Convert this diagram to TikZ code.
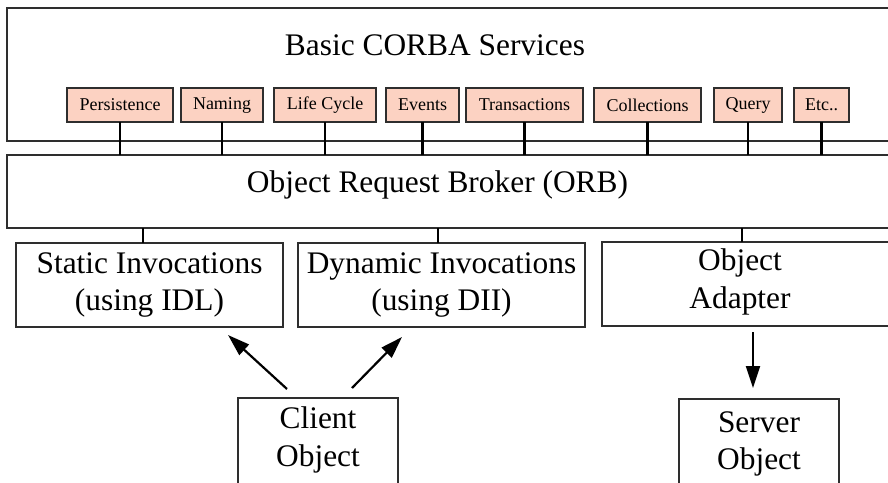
\documentclass[tikz,border=0pt]{standalone}
\usepackage{fontspec}
\setmainfont{Liberation Serif}
\usetikzlibrary{arrows.meta}

\begin{document}
\begin{tikzpicture}[x=1pt, y=-1pt,
    frame/.style={draw=borderColour, line width=1.6pt, outer sep=0pt, inner sep=0pt},
    svcbox/.style={frame, fill=fillColour, minimum height=34pt, font=\fontsize{18}{21.6}\selectfont},
    bigtext/.style={font=\fontsize{31.4}{37.7}\selectfont, align=center, inner sep=0pt},
    link/.style={line width=2.4pt, black},
    arrow/.style={line width=2.2pt, -{Triangle[length=22pt, width=14pt]}}]

    \definecolor{borderColour}{HTML}{2E2E2E}
    \definecolor{fillColour}{HTML}{FCD2C2}

    \useasboundingbox (0,0) rectangle (888,482);
    \clip (0,0) rectangle (888,482);

    % Draw the services frame and the ORB bar
    \node[frame, minimum width=893pt, minimum height=133pt] (services) at (453.5,74.5) {};
    \node[bigtext, anchor=base] (servicesLabel) at (435,55) {Basic CORBA Services};
    \node[frame, minimum width=893pt, minimum height=73pt] (orb) at (453.5,191.5) {};
    \node[bigtext, anchor=base] (orbLabel) at (437.5,192) {Object Request Broker (ORB)};

    % Draw the services and link them down to the ORB
    \foreach \name/\xa/\xb/\txt in {persistence/67/173/Persistence, naming/181/263/Naming,
        lifecycle/274/376/Life Cycle, events/386/459/Events, transactions/466/583/Transactions,
        collections/594/701/Collections, query/714/782/Query, etc/794/849/{Etc..}}
    {
        \node[svcbox, minimum width={(\xb-\xa)*1pt}] (\name) at ({(\xa+\xb)/2},105) {\txt};
        \draw[link] (\name.south) -- (\name.south |- orb.north);
    }

    % Draw the invocation boxes and the object adapter
    \node[frame, bigtext, minimum width=267pt, minimum height=84pt] (static) at (149.5,285) {Static Invocations\\(using IDL)};
    \node[frame, bigtext, minimum width=287pt, minimum height=84pt] (dynamic) at (441.5,285) {Dynamic Invocations\\(using DII)};
    \node[frame, minimum width=298pt, minimum height=84pt] (adapter) at (751,284) {};
    \node[bigtext] (adapterLabel) at (740,282) {Object\\Adapter};

    % Link them up to the ORB
    \coordinate (staticLink) at ([xshift=-6.5pt]static.north);
    \coordinate (dynamicLink) at ([xshift=-3.5pt]dynamic.north);
    \coordinate (adapterLink) at ([xshift=-9pt]adapter.north);
    \draw[link] (staticLink) -- (staticLink |- orb.south);
    \draw[link] (dynamicLink) -- (dynamicLink |- orb.south);
    \draw[link] (adapterLink) -- (adapterLink |- orb.south);

    % Draw client and server objects
    \node[frame, minimum width=160pt, minimum height=120pt, anchor=north] (client) at (318,398) {};
    \node[bigtext] (clientLabel) at (318,440) {Client\\Object};
    \node[frame, minimum width=160pt, minimum height=120pt, anchor=north] (server) at (759,399) {};
    \node[bigtext] (serverLabel) at (759,444) {Server\\Object};

    % Draw the calls
    \draw[arrow] ([shift={(-31,-9)}]client.north) -- ([shift={(78.5,8)}]static.south);
    \draw[arrow] ([shift={(34,-10)}]client.north) -- ([shift={(-39.5,10)}]dynamic.south);
    \draw[arrow] ([shift={(2,6)}]adapter.south) -- ([shift={(-6,-11)}]server.north);

\end{tikzpicture}
\end{document}
